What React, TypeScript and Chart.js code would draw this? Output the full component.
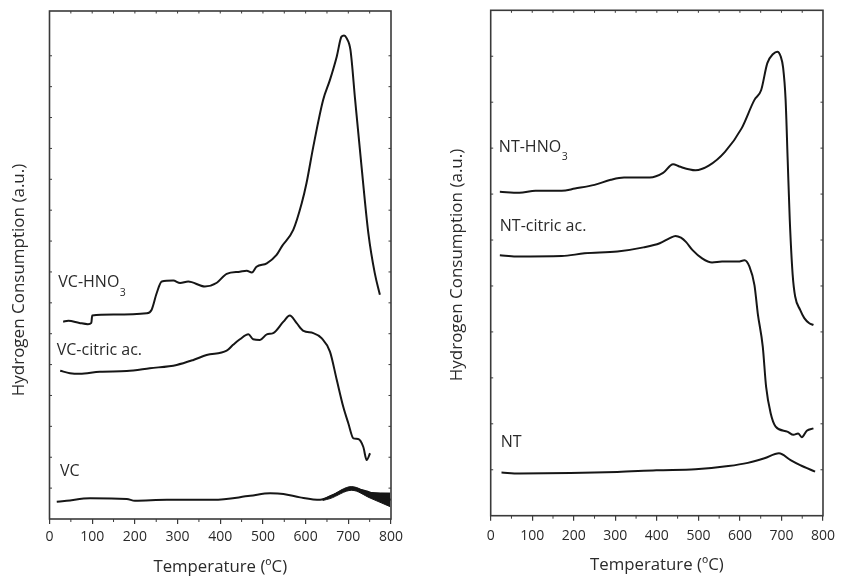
import React, { useEffect, useRef } from 'react';
import { Chart, registerables } from 'chart.js';

Chart.register(...registerables);

const FONT = "'Open Sans', 'Noto Sans', sans-serif";
const AXIS_COLOR = '#3a3a3a';
const TEXT_COLOR = '#2a2a2a';
const LINE_COLOR = '#161616';

// ---- shared axis values ----
const tempMin = 0;
const tempMax = 800;
const tempMajorStep = 100;
const tempMinorStep = 50;
const xTitle = 'Temperature (ºC)';
const yTitle = 'Hydrogen Consumption (a.u.)';

// ---- left panel (VC samples) ----
const leftYMax = 16.45;
const vcHno3Temp = [32, 44, 70, 90, 98, 100, 150, 228, 239, 251, 263, 290, 306, 325, 364, 392, 415, 446, 462, 474, 485, 509, 532, 544, 571, 591, 602, 618, 641, 657, 673, 684, 690, 696, 705, 716, 731, 747, 762, 774];
const vcHno3Val = [6.39, 6.42, 6.35, 6.31, 6.35, 6.59, 6.62, 6.66, 6.77, 7.31, 7.69, 7.72, 7.64, 7.69, 7.53, 7.65, 7.94, 8.01, 8.04, 7.98, 8.17, 8.28, 8.55, 8.82, 9.36, 10.23, 10.87, 12.06, 13.57, 14.22, 14.98, 15.62, 15.66, 15.57, 15.19, 13.57, 11.41, 9.25, 7.96, 7.26];

const vcCitricTemp = [25, 48, 71, 118, 181, 235, 298, 337, 368, 415, 430, 446, 466, 477, 493, 509, 524, 548, 563, 579, 595, 618, 638, 657, 673, 688, 700, 712, 723, 735, 743, 751];
const vcCitricVal = [4.80, 4.72, 4.70, 4.77, 4.79, 4.88, 4.99, 5.15, 5.31, 5.45, 5.64, 5.82, 5.98, 5.82, 5.80, 5.98, 6.02, 6.39, 6.59, 6.34, 6.09, 6.02, 5.85, 5.42, 4.50, 3.64, 3.10, 2.61, 2.59, 2.34, 1.91, 2.13];

const vcTemp = [17, 40, 95, 181, 200, 275, 384, 470, 517, 548, 587, 634, 665, 704, 735, 766, 800];
const vcVal = [0.56, 0.59, 0.67, 0.65, 0.59, 0.62, 0.62, 0.75, 0.83, 0.81, 0.70, 0.62, 0.78, 0.97, 0.92, 0.78, 0.62];

// noisy (thick) part of the VC trace: upper and lower envelope
const vcBandTemp = [640, 657, 708, 751, 798];
const vcBandHigh = [0.64, 0.74, 1.05, 0.86, 0.84];
const vcBandLow = [0.60, 0.66, 0.93, 0.68, 0.40];

// ---- right panel (NT samples) ----
const rightYMax = 11;
const ntHno3Temp = [22, 69, 108, 171, 203, 250, 289, 321, 383, 415, 439, 454, 493, 525, 564, 604, 635, 651, 666, 680, 690, 698, 704, 710, 715, 720, 727, 733, 745, 755, 767, 777];
const ntHno3Val = [7.05, 7.03, 7.07, 7.07, 7.12, 7.20, 7.31, 7.36, 7.36, 7.46, 7.65, 7.60, 7.52, 7.62, 7.92, 8.43, 9.05, 9.26, 9.85, 10.05, 10.1, 10.0, 9.75, 9.05, 7.74, 6.44, 5.24, 4.77, 4.48, 4.30, 4.19, 4.15];

const ntCitricTemp = [22, 61, 171, 226, 305, 368, 407, 431, 445, 458, 470, 486, 509, 533, 557, 596, 611, 623, 635, 643, 655, 663, 674, 686, 714, 729, 740, 749, 761, 777];
const ntCitricVal = [5.67, 5.64, 5.65, 5.71, 5.75, 5.84, 5.93, 6.04, 6.09, 6.05, 5.96, 5.78, 5.60, 5.51, 5.53, 5.53, 5.56, 5.42, 5.02, 4.40, 3.68, 2.81, 2.23, 1.94, 1.83, 1.76, 1.79, 1.71, 1.85, 1.90];

const ntTemp = [26, 69, 305, 399, 493, 572, 619, 659, 694, 722, 745, 781];
const ntVal = [0.94, 0.92, 0.95, 0.99, 1.01, 1.08, 1.15, 1.25, 1.36, 1.21, 1.10, 0.96];

// ---- curve labels (text, subscript, data position of the baseline start) ----
const leftLabels = [
  { text: 'VC-HNO', sub: '3', x: 20.6, y: 7.51 },
  { text: 'VC-citric ac.', sub: '', x: 16.9, y: 5.31 },
  { text: 'VC', sub: '', x: 24.6, y: 1.39 },
];
const rightLabels = [
  { text: 'NT-HNO', sub: '3', x: 19.6, y: 7.92 },
  { text: 'NT-citric ac.', sub: '', x: 21.9, y: 6.2 },
  { text: 'NT', sub: '', x: 24.3, y: 1.49 },
];

const pts = (xs: number[], ys: number[]) => xs.map((x, i) => ({ x, y: ys[i] }));

const framePlugin = {
  id: 'frame',
  afterDraw(chart: any, _args: any, opts: any) {
    const { ctx, chartArea: a, scales } = chart;
    const xs = scales.x;
    const ys = scales.y;
    ctx.save();
    ctx.strokeStyle = AXIS_COLOR;
    ctx.lineWidth = 1.6;
    ctx.strokeRect(a.left, a.top, a.right - a.left, a.bottom - a.top);
    ctx.lineWidth = 1;
    ctx.beginPath();
    for (let t = tempMin; t <= tempMax; t += tempMinorStep) {
      const px = xs.getPixelForValue(t);
      if (t % tempMajorStep !== 0) {
        ctx.moveTo(px, a.bottom);
        ctx.lineTo(px, a.bottom + 3);
      }
      if (t > tempMin && t < tempMax) {
        ctx.moveTo(px, a.top);
        ctx.lineTo(px, a.top + 2.5);
      }
    }
    for (const tk of ys.ticks) {
      const py = ys.getPixelForValue(tk.value);
      if (py > a.top + 2 && py < a.bottom - 2) {
        ctx.moveTo(a.left, py);
        ctx.lineTo(a.left + 2.5, py);
        ctx.moveTo(a.right, py);
        ctx.lineTo(a.right - 2.5, py);
      }
    }
    ctx.stroke();

    ctx.fillStyle = TEXT_COLOR;

    // y-axis title (rotated)
    ctx.save();
    ctx.translate(opts.yTitleX, (a.top + a.bottom) / 2 + opts.yTitleShift);
    ctx.rotate(-Math.PI / 2);
    ctx.textAlign = 'center';
    ctx.textBaseline = 'middle';
    ctx.font = `17px ${FONT}`;
    ctx.fillText(yTitle, 0, 0);
    ctx.restore();

    ctx.textAlign = 'left';
    ctx.textBaseline = 'alphabetic';
    for (const lb of opts.labels || []) {
      const px = xs.getPixelForValue(lb.x);
      const py = ys.getPixelForValue(lb.y);
      ctx.font = `16px ${FONT}`;
      ctx.fillText(lb.text, px, py);
      if (lb.sub) {
        const w = ctx.measureText(lb.text).width;
        ctx.font = `10.5px ${FONT}`;
        ctx.fillText(lb.sub, px + w + 0.5, py + 8.5);
      }
    }
    ctx.restore();
  },
};

function buildConfig(p: {
  datasets: any[];
  yMax: number;
  padTop: number;
  padRight: number;
  yAxisWidth: number;
  xAxisHeight: number;
  yTitleX: number;
  yTitleShift: number;
  xTitlePad: number;
  tickPad: number;
  labels: any[];
}) {
  return {
    type: 'line' as const,
    data: { datasets: p.datasets },
    plugins: [framePlugin],
    options: {
      responsive: false,
      maintainAspectRatio: false,
      animation: false as const,
      layout: { padding: { left: 0, top: p.padTop, right: p.padRight, bottom: 0 } },
      plugins: {
        legend: { display: false },
        tooltip: { enabled: false },
        frame: { labels: p.labels, yTitleX: p.yTitleX, yTitleShift: p.yTitleShift },
      },
      elements: {
        point: { radius: 0 },
        line: { borderWidth: 2, borderColor: LINE_COLOR, cubicInterpolationMode: 'monotone' as const },
      },
      scales: {
        x: {
          type: 'linear' as const,
          min: tempMin,
          max: tempMax,
          ticks: {
            stepSize: tempMajorStep,
            autoSkip: false,
            maxRotation: 0,
            padding: p.tickPad,
            color: TEXT_COLOR,
            font: { family: FONT, size: 14 },
          },
          grid: {
            display: true,
            drawOnChartArea: false,
            drawTicks: true,
            tickLength: 5,
            color: AXIS_COLOR,
            lineWidth: 1.2,
          },
          border: { display: false },
          title: {
            display: true,
            text: xTitle,
            color: TEXT_COLOR,
            font: { family: FONT, size: 16.8 },
            padding: { top: 0, bottom: p.xTitlePad },
          },
          afterFit(scale: any) {
            scale.height = p.xAxisHeight;
          },
        },
        y: {
          type: 'linear' as const,
          min: 0,
          max: p.yMax,
          ticks: { display: false, stepSize: 1 },
          grid: { display: false, drawTicks: false },
          border: { display: false },
          title: { display: false },
          afterFit(scale: any) {
            scale.width = p.yAxisWidth;
          },
        },
      },
    },
  };
}

const lineDs = (data: { x: number; y: number }[], extra: any = {}) => ({
  data,
  borderColor: LINE_COLOR,
  borderWidth: 2,
  fill: false,
  pointRadius: 0,
  ...extra,
});

export default function App() {
  const leftRef = useRef<HTMLCanvasElement>(null);
  const rightRef = useRef<HTMLCanvasElement>(null);

  useEffect(() => {
    const left = new Chart(
      leftRef.current as HTMLCanvasElement,
      buildConfig({
        datasets: [
          lineDs(pts(vcHno3Temp, vcHno3Val)),
          lineDs(pts(vcCitricTemp, vcCitricVal)),
          lineDs(pts(vcTemp, vcVal)),
          lineDs(pts(vcBandTemp, vcBandHigh), { borderWidth: 1 }),
          lineDs(pts(vcBandTemp, vcBandLow), { borderWidth: 1, fill: '-1', backgroundColor: LINE_COLOR }),
        ],
        yMax: leftYMax,
        padTop: 11,
        padRight: 29,
        yAxisWidth: 49.5,
        xAxisHeight: 58,
        yTitleX: 19,
        yTitleShift: 15,
        xTitlePad: 0,
        tickPad: 5,
        labels: leftLabels,
      }) as any
    );
    const right = new Chart(
      rightRef.current as HTMLCanvasElement,
      buildConfig({
        datasets: [
          lineDs(pts(ntHno3Temp, ntHno3Val)),
          lineDs(pts(ntCitricTemp, ntCitricVal)),
          lineDs(pts(ntTemp, ntVal)),
        ],
        yMax: rightYMax,
        padTop: 10.3,
        padRight: 12,
        yAxisWidth: 70.7,
        xAxisHeight: 61.3,
        yTitleX: 37.4,
        yTitleShift: 2,
        xTitlePad: 1.4,
        tickPad: 7,
        labels: rightLabels,
      }) as any
    );
    return () => {
      left.destroy();
      right.destroy();
    };
  }, []);

  return (
    <div style={{ position: 'absolute', left: 0, top: 0, width: 842, height: 577, background: '#fff', overflow: 'hidden' }}>
      <canvas ref={leftRef} width={420} height={577} style={{ position: 'absolute', left: 0, top: 0 }} />
      <canvas ref={rightRef} width={422} height={577} style={{ position: 'absolute', left: 420, top: 0 }} />
    </div>
  );
}
